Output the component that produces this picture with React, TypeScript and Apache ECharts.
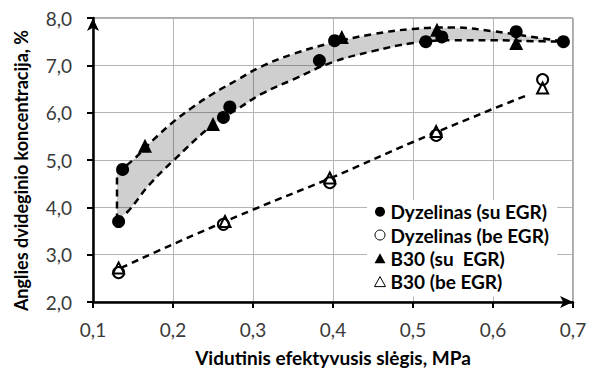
import React, { useEffect, useRef } from "react";
import * as echarts from "echarts";

const xTicks = [0.1, 0.2, 0.3, 0.4, 0.5, 0.6, 0.7];
const yTicks = [2, 3, 4, 5, 6, 7, 8];

const legendNames = [
  "Dyzelinas (su EGR)",
  "Dyzelinas (be EGR)",
  "B30 (su  EGR)",
  "B30 (be EGR)",
];

const dieselWithEgr = [
  [0.132, 3.7], [0.137, 4.8], [0.263, 5.9], [0.271, 6.12], [0.383, 7.1],
  [0.402, 7.52], [0.516, 7.5], [0.536, 7.6], [0.629, 7.71], [0.688, 7.5],
];
const dieselNoEgr = [
  [0.132, 2.62], [0.263, 3.64], [0.396, 4.52], [0.529, 5.52], [0.662, 6.7],
];
const b30WithEgr = [
  [0.165, 5.3], [0.25, 5.76], [0.411, 7.6], [0.53, 7.75], [0.629, 7.47],
];
const b30NoEgr = [
  [0.132, 2.72], [0.265, 3.7], [0.396, 4.62], [0.529, 5.6], [0.662, 6.52],
];

// trend curves
const upperCurve = [
  [0.13, 4.73], [0.15, 5.0], [0.175, 5.42], [0.2, 5.8], [0.225, 6.12],
  [0.25, 6.4], [0.28, 6.69], [0.31, 6.97], [0.35, 7.24], [0.4, 7.48],
  [0.45, 7.66], [0.5, 7.77], [0.55, 7.8], [0.6, 7.72], [0.65, 7.6], [0.69, 7.5],
];
const lowerCurve = [
  [0.13, 3.72], [0.144, 3.92], [0.17, 4.47], [0.2, 4.98], [0.25, 5.75],
  [0.28, 6.07], [0.31, 6.39], [0.35, 6.7], [0.4, 7.07], [0.45, 7.3],
  [0.5, 7.47], [0.55, 7.53], [0.6, 7.53], [0.65, 7.51], [0.69, 7.5],
];
const edgeLine = [
  [0.13, 3.72], [0.13, 4.73],
];
const noEgrCurve = [
  [0.135, 2.72], [0.2, 3.22], [0.3, 3.95], [0.4, 4.64], [0.5, 5.38],
  [0.6, 6.08], [0.64, 6.35],
];

const yTitle = "Anglies dvideginio koncentracija, %";
const xTitle = "Vidutinis efektyvusis slėgis, MPa";

const FONT = "Lato, 'Open Sans', sans-serif";
const fmt = (v: number) => v.toFixed(1).replace(".", ",");

const dashed = {
  color: "#000",
  width: 2.5,
  type: [7, 5] as any,
};

export default function App() {
  const ref = useRef<HTMLDivElement>(null);
  useEffect(() => {
    if (!ref.current) return;
    const chart = echarts.init(ref.current, undefined, { renderer: "svg" });
    const option: any = {
      animation: false,
      textStyle: { fontFamily: FONT },
      grid: {
        left: 93,
        right: 23,
        top: 18,
        bottom: 67,
        show: true,
        borderColor: "#555",
        borderWidth: 1,
        backgroundColor: "transparent",
      },
      graphic: [
        {
          type: "text",
          x: 21,
          y: 170.5,
          rotation: Math.PI / 2,
          silent: true,
          style: {
            text: yTitle,
            font: `bold 18px ${FONT}`,
            fill: "#000",
            textAlign: "center",
            textVerticalAlign: "middle",
          },
        },
      ],
      legend: {
        orient: "vertical",
        left: 367,
        top: 199.7,
        padding: [2, 8, 5, 7],
        backgroundColor: "#fff",
        itemGap: 3.3,
        itemWidth: 11,
        itemHeight: 10,
        z: 10,
        textStyle: {
          fontFamily: FONT,
          fontSize: 19,
          fontWeight: "bold",
          color: "#000",
          lineHeight: 20,
        },
        data: [
          { name: legendNames[0], icon: "circle" },
          { name: legendNames[1], icon: "circle", itemStyle: { borderWidth: 1, color: "#fff", borderColor: "#000" } },
          { name: legendNames[2], icon: "triangle" },
          { name: legendNames[3], icon: "triangle", itemStyle: { borderWidth: 1, color: "#fff", borderColor: "#000" } },
        ],
      },
      xAxis: {
        type: "value",
        min: xTicks[0],
        max: xTicks[xTicks.length - 1],
        interval: 0.1,
        name: xTitle,
        nameLocation: "middle",
        nameGap: 46,
        nameTextStyle: { fontFamily: FONT, fontSize: 19, fontWeight: "bold", color: "#000" },
        axisLine: {
          show: true,
          onZero: false,
          symbol: ["none", "arrow"],
          symbolSize: [9, 13],
          lineStyle: { color: "#000", width: 2.5 },
        },
        axisTick: { show: true, inside: false, length: 6, lineStyle: { color: "#000", width: 2 } },
        axisLabel: { formatter: fmt, fontFamily: FONT, fontSize: 19, color: "#3a3a3a", margin: 18 },
        splitLine: { show: true, lineStyle: { color: "#b4b4b4", width: 1 } },
      },
      yAxis: {
        type: "value",
        min: yTicks[0],
        max: yTicks[yTicks.length - 1],
        interval: 1,
        axisLine: {
          show: true,
          onZero: false,
          symbol: ["none", "arrow"],
          symbolSize: [9, 13],
          lineStyle: { color: "#000", width: 2.5 },
        },
        axisTick: { show: true, inside: false, length: 6, lineStyle: { color: "#000", width: 2 } },
        axisLabel: { formatter: fmt, fontFamily: FONT, fontSize: 19, color: "#3a3a3a", margin: 21 },
        splitLine: { show: true, lineStyle: { color: "#b4b4b4", width: 1 } },
      },
      series: [
        {
          type: "custom",
          name: "band",
          silent: true,
          z: 1,
          data: [0],
          renderItem: (params: any, api: any) => {
            const pts = upperCurve
              .map((p) => api.coord(p))
              .concat(lowerCurve.slice().reverse().map((p) => api.coord(p)));
            return {
              type: "polygon",
              shape: { points: pts },
              style: { fill: "rgba(0,0,0,0.19)", stroke: "none" },
            };
          },
        },
        { type: "line", name: "upper", data: upperCurve, smooth: 0.4, showSymbol: false, symbol: "none", lineStyle: dashed, z: 2, silent: true },
        { type: "line", name: "lower", data: lowerCurve, smooth: 0.4, showSymbol: false, symbol: "none", lineStyle: dashed, z: 2, silent: true },
        { type: "line", name: "edge", data: edgeLine, showSymbol: false, symbol: "none", lineStyle: dashed, z: 2, silent: true },
        { type: "line", name: "noegr", data: noEgrCurve, smooth: 0.4, showSymbol: false, symbol: "none", lineStyle: dashed, z: 2, silent: true },
        {
          type: "scatter",
          name: legendNames[0],
          data: dieselWithEgr,
          symbol: "circle",
          symbolSize: 13,
          itemStyle: { color: "#000", opacity: 1 },
          z: 3,
        },
        {
          type: "scatter",
          name: legendNames[1],
          data: dieselNoEgr,
          symbol: "circle",
          symbolSize: 11,
          itemStyle: { color: "#fff", borderColor: "#000", borderWidth: 2, opacity: 1 },
          z: 3,
        },
        {
          type: "scatter",
          name: legendNames[2],
          data: b30WithEgr,
          symbol: "triangle",
          symbolSize: 14,
          itemStyle: { color: "#000", opacity: 1 },
          z: 3,
        },
        {
          type: "scatter",
          name: legendNames[3],
          data: b30NoEgr,
          symbol: "triangle",
          symbolSize: 11,
          itemStyle: { color: "rgba(255,255,255,0)", borderColor: "#000", borderWidth: 2, opacity: 1 },
          z: 3,
        },
      ],
    };
    chart.setOption(option);
    return () => chart.dispose();
  }, []);
  return <div ref={ref} style={{ width: 596, height: 372, position: "absolute", left: 0, top: 0 }} />;
}
